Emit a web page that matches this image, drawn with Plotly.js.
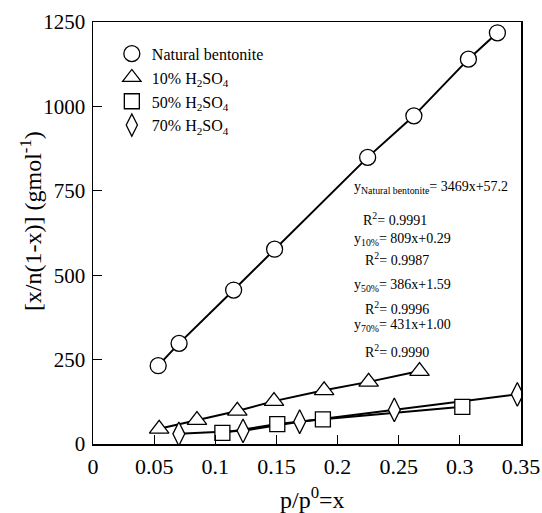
<!DOCTYPE html>
<html>
<head>
<meta charset="utf-8">
<script src="https://cdn.plot.ly/plotly-3.0.1.min.js"></script>
<style>html,body{margin:0;padding:0;background:#fff;}#chart{width:542px;height:513px;}</style>
</head>
<body>
<div id="chart"></div>
<script>
// Data
const seriesNames = ["Natural bentonite", "10% H<sub>2</sub>SO<sub>4</sub>", "50% H<sub>2</sub>SO<sub>4</sub>", "70% H<sub>2</sub>SO<sub>4</sub>"];
const natX = [0.0533, 0.0704, 0.115, 0.1485, 0.2246, 0.2624, 0.307, 0.3307];
const natY = [232, 298, 456, 577, 849, 972, 1140, 1218];
const h10X = [0.0541, 0.085, 0.118, 0.148, 0.189, 0.2254, 0.267];
const h10Y = [45, 71, 98, 127, 159, 184, 216];
const h50X = [0.1058, 0.1507, 0.188, 0.302];
const h50Y = [33, 59, 73, 110];
const h70X = [0.0702, 0.1227, 0.169, 0.2464, 0.347];
const h70Y = [30, 39, 66, 101, 147];
const fitLabels = [
  "y<sub>Natural bentonite</sub>= 3469x+57.2", "R<sup>2</sup>= 0.9991",
  "y<sub>10%</sub>= 809x+0.29", "R<sup>2</sup>= 0.9987",
  "y<sub>50%</sub>= 386x+1.59", "R<sup>2</sup>= 0.9996",
  "y<sub>70%</sub>= 431x+1.00", "R<sup>2</sup>= 0.9990"
];
const xTitle = "p/p<sup>0</sup>=x";
const yTitle = "[x/n(1-x)] (gmol<sup>-1</sup>)";
const xTicks = [0, 0.05, 0.1, 0.15, 0.2, 0.25, 0.3, 0.35];
const xTickText = ["0", "0.05", "0.1", "0.15", "0.2", "0.25", "0.3", "0.35"];
const yTicks = [0, 250, 500, 750, 1000, 1250];

const FONT = "Liberation Serif, Times New Roman, serif";
const xs = [natX, h10X, h50X, h70X];
const ys = [natY, h10Y, h50Y, h70Y];
const symbols = ["circle", "triangle-up", "square", "diamond-tall"];
const sizes = [16, 17, 15, 17];

const traces = [];
for (let i = 0; i < 4; i++) {
  traces.push({x: xs[i], y: ys[i], type: "scatter", mode: "lines",
    line: {color: "#000", width: 2}, showlegend: false, hoverinfo: "skip"});
}
for (let i = 0; i < 4; i++) {
  traces.push({x: xs[i], y: ys[i], type: "scatter", mode: "markers", name: seriesNames[i],
    marker: {symbol: symbols[i], size: sizes[i], color: "#fff",
      line: {color: "#000", width: 1.3}}});
}

// annotation positions (paper coords)
const annX = [0.605, 0.627, 0.605, 0.630, 0.605, 0.630, 0.605, 0.630];
const annY = [0.608, 0.533, 0.485, 0.438, 0.375, 0.323, 0.280, 0.220];
const annotations = fitLabels.map((t, i) => ({
  text: t, xref: "paper", yref: "paper", x: annX[i], y: annY[i],
  xanchor: "left", yanchor: "middle", showarrow: false,
  font: {family: FONT, size: 14, color: "#000"}
}));
annotations.push({text: xTitle, xref: "paper", yref: "paper", x: 0.5, y: -0.128,
  xanchor: "center", yanchor: "middle", showarrow: false, xshift: 5,
  font: {family: FONT, size: 24, color: "#000"}});
annotations.push({text: yTitle, xref: "paper", yref: "paper", x: -0.145, y: 0.528,
  xanchor: "center", yanchor: "middle", showarrow: false, textangle: -90,
  font: {family: FONT, size: 24, color: "#000"}});

const layout = {
  width: 542, height: 513,
  margin: {l: 93, r: 21, t: 22, b: 69},
  paper_bgcolor: "#fff", plot_bgcolor: "#fff",
  font: {family: FONT, color: "#000", size: 22},
  xaxis: {range: [0, 0.35], tickvals: xTicks, ticktext: xTickText, ticks: "inside", ticklen: 9,
    tickwidth: 1, tickcolor: "#000", showline: true, linecolor: "#000", linewidth: 1.5, mirror: true,
    showgrid: false, zeroline: false, tickfont: {family: FONT, size: 22}, ticklabelstandoff: 2},
  yaxis: {range: [0, 1250], tickvals: yTicks, ticks: "inside", ticklen: 9,
    tickwidth: 1, tickcolor: "#000", showline: true, linecolor: "#000", linewidth: 1.5, mirror: true,
    showgrid: false, zeroline: false, tickfont: {family: FONT, size: 21}, ticklabelstandoff: 2},
  legend: {x: 0.044, y: 0.965, xanchor: "left", yanchor: "top", bgcolor: "rgba(0,0,0,0)",
    font: {family: FONT, size: 16}, tracegroupgap: 0, itemsizing: "trace"},
  annotations: annotations,
  showlegend: true
};

Plotly.newPlot("chart", traces, layout, {displayModeBar: false, staticPlot: true});
</script>
</body>
</html>
